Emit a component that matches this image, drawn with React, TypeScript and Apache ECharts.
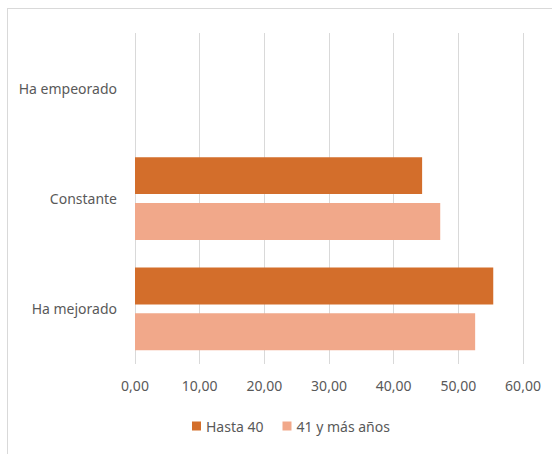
import React, { useEffect, useRef } from "react";
import * as echarts from "echarts";

const categories = ["Ha mejorado", "Constante", "Ha empeorado"];
const seriesNames = ["Hasta 40", "41 y más años"];
const hasta40 = [55.4, 44.4, 0];
const mas41 = [52.6, 47.2, 0];
const xTicks = { min: 0, max: 60, interval: 10 };

export default function App() {
  const ref = useRef<HTMLDivElement>(null);
  useEffect(() => {
    const chart = echarts.init(ref.current!, null, { renderer: "svg" });
    const font = "'Noto Sans', sans-serif";
    chart.setOption({
      animation: false,
      backgroundColor: "#ffffff",
      textStyle: { fontFamily: font },
      grid: { left: 135, right: 29, top: 33, bottom: 90 },
      legend: {
        data: seriesNames,
        left: 187,
        top: 414,
        itemWidth: 9,
        itemHeight: 9,
        itemGap: 19,
        icon: "rect",
        textStyle: { color: "#595959", fontSize: 14, fontFamily: font },
      },
      xAxis: {
        type: "value",
        min: xTicks.min,
        max: xTicks.max,
        interval: xTicks.interval,
        axisLine: { show: false },
        axisTick: { show: false },
        splitLine: { lineStyle: { color: "#D9D9D9", width: 1 } },
        axisLabel: {
          color: "#595959",
          fontSize: 14,
          fontFamily: font,
          margin: 14,
          formatter: (v: number) => v.toFixed(2).replace(".", ","),
        },
      },
      yAxis: {
        type: "category",
        data: categories,
        axisLine: { show: false },
        axisTick: { show: false },
        axisLabel: { color: "#595959", fontSize: 14, fontFamily: font, margin: 18 },
      },
      series: [
        {
          name: seriesNames[0],
          type: "bar",
          data: hasta40,
          itemStyle: { color: "#D36E2B" },
          barGap: "24%",
          barCategoryGap: "25%",
        },
        {
          name: seriesNames[1],
          type: "bar",
          data: mas41,
          itemStyle: { color: "#F1A88A" },
          barGap: "24%",
          barCategoryGap: "25%",
        },
      ],
      graphic: [
        {
          type: "line",
          shape: { x1: 7, y1: 8.5, x2: 552, y2: 8.5 },
          style: { stroke: "#D9D9D9", lineWidth: 1 },
          silent: true,
        },
        {
          type: "line",
          shape: { x1: 7.5, y1: 8, x2: 7.5, y2: 454 },
          style: { stroke: "#D9D9D9", lineWidth: 1 },
          silent: true,
        },
      ],
    });
    return () => chart.dispose();
  }, []);
  return (
    <div
      ref={ref}
      style={{ position: "fixed", left: 0, top: 0, width: 552, height: 454 }}
    />
  );
}
